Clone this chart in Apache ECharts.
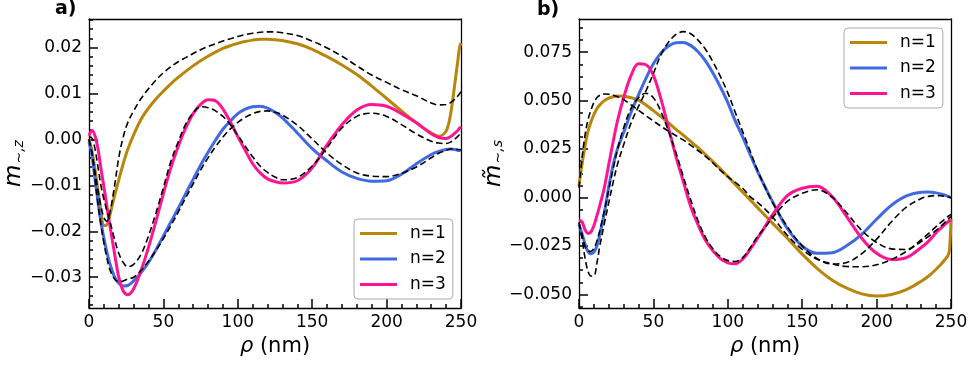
<!DOCTYPE html>
<html>
<head>
<meta charset="utf-8">
<script src="https://cdn.jsdelivr.net/npm/echarts@6/dist/echarts.min.js"></script>
<style>
html, body { margin: 0; padding: 0; background: #fff; }
#chart { width: 979px; height: 370px; }
</style>
</head>
<body>
<div id="chart"></div>
<script>
// rho (nm) sample points, shared by every curve
var rho = [0, 2, 4, 6, 8, 10, 12, 14, 17, 20, 23, 26, 30, 35, 40, 45, 50, 55, 60, 65, 70, 75, 80, 85, 90, 95, 100, 105, 110, 115, 120, 125, 130, 140, 150, 160, 170, 180, 190, 200, 210, 220, 230, 235, 240, 243, 246, 248, 249, 250];

// panel a) m~,z
var leftN1 = [0.0000, -0.0025, -0.0065, -0.0110, -0.0155, -0.0188, -0.0186, -0.0165, -0.0125, -0.0088, -0.0053, -0.0022, 0.0010, 0.0044, 0.0068, 0.0088, 0.0105, 0.0121, 0.0135, 0.0148, 0.0160, 0.0171, 0.0181, 0.0190, 0.0198, 0.0204, 0.0209, 0.0213, 0.0216, 0.0218, 0.0218, 0.0217, 0.0215, 0.0208, 0.0196, 0.0180, 0.0162, 0.0141, 0.0116, 0.0089, 0.0062, 0.0036, 0.0014, 0.0007, 0.0018, 0.0055, 0.0125, 0.0175, 0.0200, 0.0210];
var leftN2 = [-0.0005, -0.0035, -0.0085, -0.0135, -0.0180, -0.0215, -0.0245, -0.0270, -0.0298, -0.0313, -0.0319, -0.0318, -0.0308, -0.0290, -0.0268, -0.0240, -0.0210, -0.0180, -0.0150, -0.0118, -0.0087, -0.0056, -0.0028, -0.0002, 0.0022, 0.0040, 0.0056, 0.0066, 0.0071, 0.0072, 0.0068, 0.0059, 0.0047, 0.0014, -0.0020, -0.0047, -0.0071, -0.0085, -0.0091, -0.0090, -0.0076, -0.0053, -0.0033, -0.0026, -0.0022, -0.0021, -0.0022, -0.0024, -0.0024, -0.0025];
var leftN3 = [0.0008, 0.0020, 0.0008, -0.0020, -0.0063, -0.0103, -0.0145, -0.0187, -0.0245, -0.0300, -0.0330, -0.0338, -0.0325, -0.0285, -0.0235, -0.0178, -0.0118, -0.0062, -0.0015, 0.0025, 0.0056, 0.0076, 0.0086, 0.0084, 0.0066, 0.0038, 0.0006, -0.0024, -0.0053, -0.0073, -0.0086, -0.0092, -0.0095, -0.0090, -0.0062, -0.0012, 0.0032, 0.0064, 0.0076, 0.0072, 0.0056, 0.0036, 0.0012, 0.0004, 0.0002, 0.0006, 0.0014, 0.0020, 0.0024, 0.0027];
var leftDash1 = [0.0000, -0.0030, -0.0070, -0.0110, -0.0145, -0.0170, -0.0178, -0.0160, -0.0105, -0.0040, 0.0005, 0.0036, 0.0062, 0.0089, 0.0110, 0.0129, 0.0145, 0.0158, 0.0169, 0.0178, 0.0187, 0.0195, 0.0202, 0.0208, 0.0214, 0.0219, 0.0224, 0.0228, 0.0231, 0.0233, 0.0234, 0.0234, 0.0232, 0.0226, 0.0214, 0.0199, 0.0181, 0.0160, 0.0140, 0.0124, 0.0108, 0.0095, 0.0079, 0.0075, 0.0076, 0.0080, 0.0088, 0.0095, 0.0099, 0.0104];
var leftDash2 = [0.0000, -0.0030, -0.0085, -0.0140, -0.0185, -0.0225, -0.0258, -0.0283, -0.0303, -0.0310, -0.0308, -0.0304, -0.0300, -0.0285, -0.0265, -0.0242, -0.0216, -0.0188, -0.0158, -0.0127, -0.0097, -0.0067, -0.0040, -0.0016, 0.0005, 0.0023, 0.0037, 0.0048, 0.0056, 0.0061, 0.0062, 0.0059, 0.0053, 0.0031, 0.0001, -0.0030, -0.0055, -0.0073, -0.0080, -0.0081, -0.0074, -0.0060, -0.0040, -0.0030, -0.0024, -0.0021, -0.0021, -0.0022, -0.0022, -0.0023];
var leftDash3 = [0.0005, 0.0003, -0.0020, -0.0060, -0.0100, -0.0130, -0.0155, -0.0178, -0.0215, -0.0248, -0.0268, -0.0277, -0.0272, -0.0250, -0.0210, -0.0160, -0.0105, -0.0048, -0.0005, 0.0033, 0.0058, 0.0071, 0.0069, 0.0062, 0.0050, 0.0032, 0.0009, -0.0015, -0.0038, -0.0058, -0.0072, -0.0082, -0.0088, -0.0083, -0.0058, -0.0018, 0.0025, 0.0050, 0.0057, 0.0050, 0.0032, 0.0012, -0.0004, -0.0008, -0.0009, -0.0006, 0.0001, 0.0007, 0.0010, 0.0013];

// panel b) m~,s
var rightN1 = [0.0060, 0.0170, 0.0265, 0.0340, 0.0390, 0.0428, 0.0458, 0.0478, 0.0500, 0.0513, 0.0520, 0.0524, 0.0523, 0.0515, 0.0502, 0.0477, 0.0448, 0.0418, 0.0386, 0.0353, 0.0322, 0.0290, 0.0257, 0.0222, 0.0185, 0.0148, 0.0108, 0.0068, 0.0028, -0.0012, -0.0052, -0.0092, -0.0132, -0.0210, -0.0292, -0.0365, -0.0425, -0.0468, -0.0497, -0.0508, -0.0500, -0.0475, -0.0432, -0.0405, -0.0370, -0.0347, -0.0320, -0.0298, -0.0270, -0.0110];
var rightN2 = [-0.0140, -0.0185, -0.0240, -0.0278, -0.0290, -0.0282, -0.0250, -0.0190, -0.0080, 0.0055, 0.0170, 0.0255, 0.0335, 0.0440, 0.0530, 0.0615, 0.0690, 0.0745, 0.0780, 0.0798, 0.0800, 0.0785, 0.0752, 0.0705, 0.0642, 0.0570, 0.0490, 0.0395, 0.0312, 0.0222, 0.0135, 0.0055, -0.0020, -0.0160, -0.0250, -0.0288, -0.0285, -0.0248, -0.0190, -0.0112, -0.0040, 0.0008, 0.0027, 0.0028, 0.0024, 0.0019, 0.0012, 0.0006, 0.0003, 0.0000];
var rightN3 = [-0.0115, -0.0125, -0.0165, -0.0185, -0.0178, -0.0145, -0.0095, -0.0040, 0.0050, 0.0170, 0.0290, 0.0400, 0.0515, 0.0630, 0.0690, 0.0685, 0.0630, 0.0510, 0.0365, 0.0215, 0.0085, -0.0045, -0.0140, -0.0220, -0.0275, -0.0315, -0.0337, -0.0342, -0.0318, -0.0268, -0.0210, -0.0150, -0.0090, 0.0010, 0.0048, 0.0058, 0.0005, -0.0100, -0.0210, -0.0288, -0.0320, -0.0310, -0.0258, -0.0225, -0.0182, -0.0160, -0.0138, -0.0125, -0.0120, -0.0115];
var rightDash1 = [0.0050, 0.0200, 0.0320, 0.0400, 0.0450, 0.0490, 0.0515, 0.0528, 0.0534, 0.0533, 0.0528, 0.0520, 0.0505, 0.0478, 0.0450, 0.0422, 0.0395, 0.0368, 0.0343, 0.0320, 0.0297, 0.0270, 0.0242, 0.0212, 0.0178, 0.0140, 0.0108, 0.0078, 0.0048, 0.0005, -0.0025, -0.0060, -0.0100, -0.0195, -0.0268, -0.0318, -0.0342, -0.0356, -0.0357, -0.0347, -0.0320, -0.0278, -0.0228, -0.0200, -0.0170, -0.0150, -0.0128, -0.0112, -0.0104, -0.0098];
var rightDash2 = [-0.0130, -0.0210, -0.0310, -0.0380, -0.0405, -0.0405, -0.0340, -0.0250, -0.0135, -0.0027, 0.0081, 0.0175, 0.0272, 0.0385, 0.0470, 0.0550, 0.0640, 0.0735, 0.0800, 0.0840, 0.0856, 0.0845, 0.0812, 0.0765, 0.0700, 0.0625, 0.0540, 0.0440, 0.0340, 0.0240, 0.0140, 0.0055, -0.0025, -0.0150, -0.0250, -0.0315, -0.0343, -0.0335, -0.0290, -0.0215, -0.0125, -0.0050, -0.0005, 0.0006, 0.0010, 0.0009, 0.0006, 0.0003, 0.0001, -0.0002];
var rightDash3 = [-0.0130, -0.0190, -0.0250, -0.0275, -0.0278, -0.0262, -0.0225, -0.0170, -0.0070, 0.0040, 0.0150, 0.0250, 0.0360, 0.0460, 0.0515, 0.0538, 0.0515, 0.0445, 0.0345, 0.0235, 0.0110, -0.0010, -0.0120, -0.0205, -0.0265, -0.0305, -0.0325, -0.0330, -0.0310, -0.0260, -0.0200, -0.0155, -0.0105, -0.0020, 0.0022, 0.0040, 0.0003, -0.0080, -0.0170, -0.0232, -0.0265, -0.0268, -0.0218, -0.0185, -0.0150, -0.0130, -0.0110, -0.0097, -0.0092, -0.0088];

var xTicks = [0, 50, 100, 150, 200, 250];
var leftYTicks = [-0.03, -0.02, -0.01, 0.00, 0.01, 0.02];
var rightYTicks = [-0.05, -0.025, 0.0, 0.025, 0.05, 0.075];
var seriesNames = ['n=1', 'n=2', 'n=3'];
var colors = ['#B8860B', '#4169E1', '#FF1493'];

var FONT = 'DejaVu Sans';

var pairs = function(ys) {
	return rho.map(function(x, i) { return [x, ys[i]]; });
};

// unlabelled ticks between the labelled ones
var minorBetween = function(ticks, parts, lo, hi) {
	var step = (ticks[1] - ticks[0]) / parts;
	var out = [];
	for (var v = ticks[0] - 3 * step; v < hi; v += step) {
		var r = Math.round(v * 1e6) / 1e6;
		var isMajor = ticks.some(function(t) { return Math.abs(t - r) < 1e-9; });
		if (!isMajor && r > lo && r < hi) out.push(r);
	}
	return out;
};

var fmt = function(digits) {
	return function(v) { return v.toFixed(digits).replace('-', '\u2212'); };
};
var blank = function() { return ''; };

var xRange = [0, 250];
var leftRange = [-0.0367, 0.0262];
var rightRange = [-0.0570, 0.0921];

var grids = [
	{ left: 89, top: 19, width: 372, height: 289 },
	{ left: 579, top: 19, width: 372, height: 289 }
];

var frameLine = { show: true, onZero: false, lineStyle: { color: '#000', width: 1.3 } };
var noLine = { show: false, onZero: false };

// an axis that only carries inward tick marks at given values
var tickAxis = function(kind, gi, range, values, len) {
	return {
		type: 'value', gridIndex: gi, position: kind === 'x' ? 'bottom' : 'left', offset: 0,
		min: range[0], max: range[1],
		axisLine: noLine,
		axisTick: { show: true, inside: true, length: len, customValues: values,
			lineStyle: { color: '#000', width: 1.5 } },
		axisLabel: { show: true, customValues: values, formatter: blank },
		splitLine: { show: false }
	};
};

var xMain = function(gi) {
	return {
		type: 'value', gridIndex: gi, position: 'bottom', min: xRange[0], max: xRange[1],
		name: '{r|\u03C1} (nm)', nameLocation: 'middle', nameGap: 26,
		nameTextStyle: { fontFamily: FONT, fontSize: 21, color: '#000',
			rich: { r: { fontFamily: FONT, fontSize: 21, fontStyle: 'italic', color: '#000' } } },
		axisLine: frameLine,
		axisTick: { show: false },
		axisLabel: { fontFamily: FONT, fontSize: 17, color: '#000', margin: 6,
			customValues: xTicks, formatter: function(v) { return String(v); } },
		splitLine: { show: false }
	};
};

var xTop = function(gi) {
	return {
		type: 'value', gridIndex: gi, position: 'top', min: xRange[0], max: xRange[1],
		axisLine: frameLine, axisTick: { show: false }, axisLabel: { show: false }, splitLine: { show: false }
	};
};

var yMain = function(gi, range, ticks, digits, label, gap) {
	return {
		type: 'value', gridIndex: gi, position: 'left', min: range[0], max: range[1],
		name: label, nameLocation: 'middle', nameGap: gap, nameRotate: 90,
		nameTextStyle: { fontFamily: FONT, color: '#000',
			rich: {
				m: { fontFamily: FONT, fontSize: 23, fontStyle: 'italic', color: '#000' },
				s: { fontFamily: FONT, fontSize: 14, fontStyle: 'italic', color: '#000', verticalAlign: 'bottom', padding: [0, 0, 0, 1] }
			} },
		axisLine: frameLine,
		axisTick: { show: false },
		axisLabel: { fontFamily: FONT, fontSize: 17, color: '#000', margin: 7,
			customValues: ticks, formatter: fmt(digits) },
		splitLine: { show: false }
	};
};

var yRight = function(gi, range) {
	return {
		type: 'value', gridIndex: gi, position: 'right', min: range[0], max: range[1],
		axisLine: frameLine, axisTick: { show: false }, axisLabel: { show: false }, splitLine: { show: false }
	};
};

var xMinor = minorBetween(xTicks, 5, xRange[0], xRange[1]);

var xAxes = [
	xMain(0), xMain(1), // 0, 1: data axes
	xTop(0), xTop(1),
	tickAxis('x', 0, xRange, xTicks, 9), tickAxis('x', 1, xRange, xTicks, 9),
	tickAxis('x', 0, xRange, xMinor, 4), tickAxis('x', 1, xRange, xMinor, 4)
];

var yAxes = [
	yMain(0, leftRange, leftYTicks, 2, '{m|m}{s|\u223C,z}', 59), // 0: data axis, panel a
	yMain(1, rightRange, rightYTicks, 3, '{m|m\u0303}{s|\u223C,s}', 57), // 1: data axis, panel b
	yRight(0, leftRange), yRight(1, rightRange),
	tickAxis('y', 0, leftRange, leftYTicks, 9),
	tickAxis('y', 0, leftRange, minorBetween(leftYTicks, 5, leftRange[0], leftRange[1]), 4),
	tickAxis('y', 1, rightRange, rightYTicks, 9),
	tickAxis('y', 1, rightRange, minorBetween(rightYTicks, 4, rightRange[0], rightRange[1]), 4)
];

var series = [];
var addPanel = function(pi, solid, dashed) {
	solid.forEach(function(ys, k) {
		series.push({
			name: seriesNames[k], type: 'line', xAxisIndex: pi, yAxisIndex: pi,
			data: pairs(ys), smooth: 0.35, showSymbol: false, z: 2,
			lineStyle: { color: colors[k], width: 3 }, itemStyle: { color: colors[k] }
		});
	});
	dashed.forEach(function(ys, k) {
		series.push({
			name: 'ref' + pi + k, type: 'line', xAxisIndex: pi, yAxisIndex: pi,
			data: pairs(ys), smooth: 0.35, showSymbol: false, z: 3,
			lineStyle: { color: '#000', width: 1.6, type: [6.5, 3.5] }, itemStyle: { color: '#000' }
		});
	});
};
addPanel(0, [leftN1, leftN2, leftN3], [leftDash1, leftDash2, leftDash3]);
addPanel(1, [rightN1, rightN2, rightN3], [rightDash1, rightDash2, rightDash3]);

var legendAt = function(left, top) {
	return {
		data: seriesNames, orient: 'vertical', left: left, top: top,
		icon: 'rect', itemWidth: 37, itemHeight: 3, itemGap: 8.5,
		padding: [6, 7, 6, 6], borderColor: '#aaa', borderWidth: 1, borderRadius: 4,
		backgroundColor: 'rgba(255,255,255,0.8)', selectedMode: false,
		textStyle: { fontFamily: FONT, fontSize: 17, color: '#000', padding: [0, 0, 0, 8] }
	};
};

var chart = echarts.init(document.getElementById('chart'), null, { renderer: 'canvas' });
chart.setOption({
	animation: false,
	grid: grids.map(function(g) {
		return { left: g.left, top: g.top, width: g.width, height: g.height, show: false };
	}),
	xAxis: xAxes,
	yAxis: yAxes,
	legend: [legendAt(354, 219), legendAt(844, 28)],
	graphic: [
		{ type: 'text', left: 55, top: 0, style: { text: 'a)', font: 'bold 19px "DejaVu Sans"', fill: '#000' } },
		{ type: 'text', left: 537, top: 1, style: { text: 'b)', font: 'bold 19px "DejaVu Sans"', fill: '#000' } }
	],
	series: series
});
</script>
</body>
</html>
